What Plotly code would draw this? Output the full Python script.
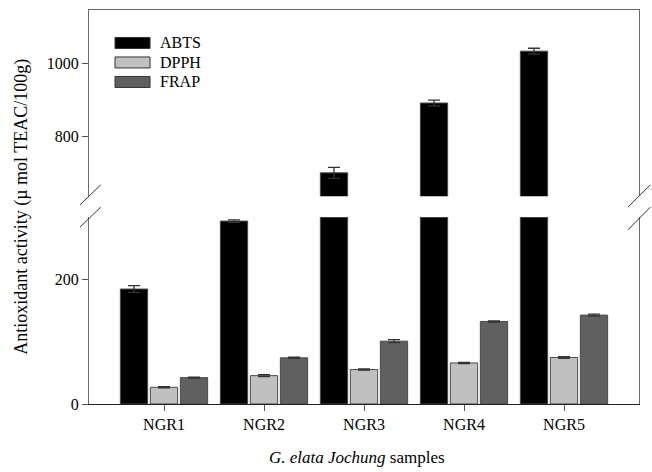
import plotly.graph_objects as go

# Antioxidant activity of G. elata Jochung samples (µmol TEAC/100g)
samples = ["NGR1", "NGR2", "NGR3", "NGR4", "NGR5"]
abts = [184.8, 294.0, 702.0, 892.0, 1033.0]
abts_err = [5.5, 2.0, 15.0, 8.0, 8.0]
dpph = [26.8, 45.6, 55.3, 66.0, 74.7]
dpph_err = [1.0, 1.5, 1.0, 1.0, 1.5]
frap = [42.4, 74.2, 101.0, 132.7, 142.9]
frap_err = [0.8, 1.0, 2.5, 1.0, 1.5]

series_names = ["ABTS", "DPPH", "FRAP"]
series_values = [abts, dpph, frap]
series_errors = [abts_err, dpph_err, frap_err]
series_colors = ["#000000", "#c0c0c0", "#606060"]

lower_ticks = [0, 200]
upper_ticks = [800, 1000]

FONT = "Liberation Serif"
W_FIG, H_FIG = 652, 472
M_L, M_R, M_T, M_B = 89, 13.3, 10, 67.7
PW = W_FIG - M_L - M_R
PH = H_FIG - M_T - M_B


def px(x):
    return (x - M_L) / PW


def py(y):
    return (H_FIG - M_B - y) / PH


fig = go.Figure()

# Same bars on both halves of the broken axis
for xa, ya in (("x", "y"), ("x2", "y2")):
    for name, vals, errs, col in zip(series_names, series_values,
                                     series_errors, series_colors):
        fig.add_trace(go.Bar(
            x=samples, y=vals, name=name, xaxis=xa, yaxis=ya,
            marker=dict(color=col, line=dict(color="#4a4a4a", width=1)),
            error_y=dict(type="data", array=errs, color="#333333",
                         thickness=1.3, width=6),
            showlegend=False,
        ))

axis_font = dict(family=FONT, size=16, color="black")

fig.update_layout(
    width=W_FIG, height=H_FIG,
    margin=dict(l=M_L, r=M_R, t=M_T, b=M_B),
    paper_bgcolor="white", plot_bgcolor="white",
    barmode="group", bargap=0.1, bargroupgap=0.09,
    font=dict(family=FONT, color="black"),
    xaxis=dict(
        anchor="y", range=[-0.75, 4.75], showline=True, linecolor="#222222",
        linewidth=1, ticks="outside", ticklen=6, tickcolor="#555555",
        tickfont=axis_font, showgrid=False, zeroline=False,
    ),
    xaxis2=dict(
        anchor="y2", matches="x", side="top", showline=True,
        linecolor="#666666", linewidth=1, ticks="", showticklabels=False,
        showgrid=False, zeroline=False,
    ),
    yaxis=dict(
        domain=[0, 0.4737], range=[0, 300], tickvals=lower_ticks,
        showline=True, mirror=True, linecolor="#6a6a6a", linewidth=1,
        ticks="outside", ticklen=6, tickcolor="#555555", tickfont=axis_font,
        showgrid=False, zeroline=False,
    ),
    yaxis2=dict(
        domain=[0.527, 1], range=[638, 1145], tickvals=upper_ticks,
        showline=True, mirror=True, linecolor="#6a6a6a", linewidth=1,
        ticks="outside", ticklen=6, tickcolor="#555555", tickfont=axis_font,
        showgrid=False, zeroline=False,
    ),
)

# Axis break marks on the left and right sides
breaks = [
    ((80, 205), (100.7, 185)), ((80, 227.3), (100.7, 207.3)),
    ((627.7, 207.3), (650, 185)), ((627.7, 230), (650, 207.3)),
]
for (x0, y0), (x1, y1) in breaks:
    fig.add_shape(type="line", xref="paper", yref="paper",
                  x0=px(x0), y0=py(y0), x1=px(x1), y1=py(y1),
                  line=dict(color="#333333", width=1))

# Legend with wide swatches
for i, (name, col) in enumerate(zip(series_names, series_colors)):
    yc = 43 + i * 19.5
    fig.add_shape(type="rect", xref="paper", yref="paper",
                  x0=px(115), x1=px(150), y0=py(yc - 5.5), y1=py(yc + 5.5),
                  fillcolor=col, line=dict(color="#333333", width=1))
    fig.add_annotation(xref="paper", yref="paper", x=px(158), y=py(yc),
                       text=name, showarrow=False, xanchor="left",
                       yanchor="middle",
                       font=dict(family=FONT, size=16, color="black"))

# Axis titles
fig.add_annotation(xref="paper", yref="paper", x=px(22), y=py(207),
                   text="Antioxidant activity (µ mol TEAC/100g)",
                   textangle=-90, showarrow=False, xanchor="center",
                   yanchor="middle",
                   font=dict(family=FONT, size=18, color="black"))
fig.add_annotation(xref="paper", yref="paper", x=px(357), y=py(458),
                   text="<i>G. elata Jochung</i> samples",
                   showarrow=False, xanchor="center", yanchor="middle",
                   font=dict(family=FONT, size=17, color="black"))

fig.write_html("out.html")
